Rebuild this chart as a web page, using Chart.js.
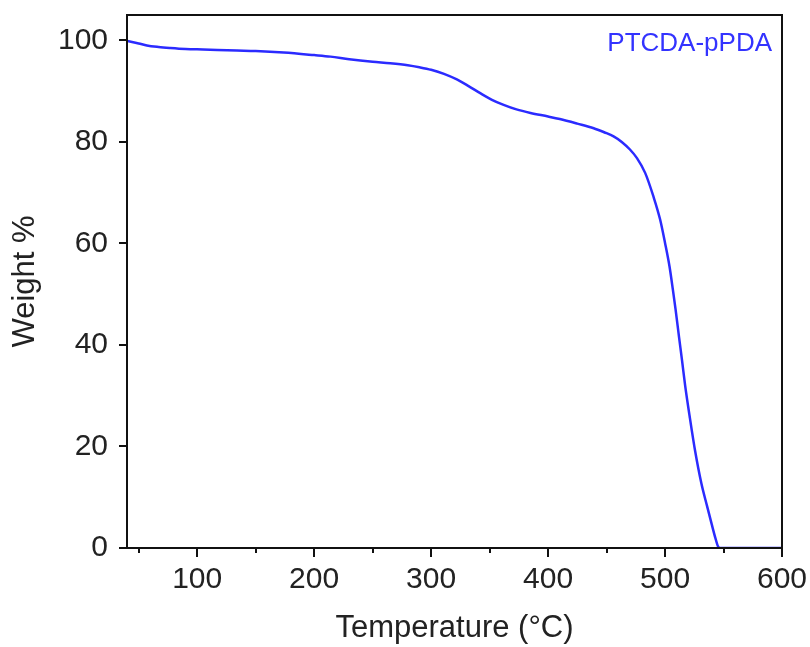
<!DOCTYPE html>
<html>
<head>
<meta charset="utf-8">
<script src="https://cdn.jsdelivr.net/npm/chart.js@4.4.0/dist/chart.umd.min.js"></script>
<style>
html,body{margin:0;padding:0;background:#fff;}
#wrap{width:810px;height:647px;position:relative;}
</style>
</head>
<body>
<div id="wrap"><canvas id="c" width="810" height="647"></canvas></div>
<script>
const seriesLabel = 'PTCDA-pPDA';
const temperatures = [40, 50, 57, 67, 77, 90, 105, 134, 150, 174, 200, 214, 230, 250, 265, 280, 290, 300, 311, 322, 332, 342, 352, 362, 373, 385, 400, 410, 425, 439, 448, 456, 463, 470, 476, 483, 490, 495.8, 500, 503.8, 506.7, 509, 512, 514.5, 517.2, 521, 525.8, 531, 536, 540, 543, 545.5, 547, 600];
const weights      = [99.9, 99.4, 99.0, 98.7, 98.5, 98.3, 98.2, 98.0, 97.9, 97.6, 97.1, 96.8, 96.3, 95.8, 95.5, 95.1, 94.7, 94.2, 93.4, 92.3, 91.0, 89.6, 88.3, 87.3, 86.4, 85.7, 85.0, 84.5, 83.6, 82.7, 81.9, 81.1, 80.0, 78.5, 76.8, 73.9, 69.3, 64.7, 60.1, 55.5, 50.9, 47.0, 41.5, 37.0, 32.0, 26.0, 19.0, 12.8, 8.2, 4.6, 2.0, 0.2, 0, 0];
const xTickValues = [100, 200, 300, 400, 500, 600];
const yTickValues = [0, 20, 40, 60, 80, 100];
const xTitle = 'Temperature (°C)';
const yTitle = 'Weight %';

const FONT = "'Liberation Sans', Arial, sans-serif";
const LINE = '#2b2bff';

const framePlugin = {
  id: 'frame',
  afterDraw(chart) {
    const {ctx, chartArea: a, scales: {x, y}} = chart;
    ctx.save();
    ctx.strokeStyle = '#111';
    ctx.lineWidth = 2;
    ctx.strokeRect(a.left, a.top, a.right - a.left, a.bottom - a.top);
    x.ticks.forEach(t => {
      const px = Math.round(x.getPixelForValue(t.value));
      const major = xTickValues.includes(t.value);
      ctx.beginPath();
      ctx.moveTo(px, a.bottom);
      ctx.lineTo(px, a.bottom + (major ? 9 : 5));
      ctx.stroke();
    });
    y.ticks.forEach(t => {
      const py = Math.round(y.getPixelForValue(t.value));
      ctx.beginPath();
      ctx.moveTo(a.left, py);
      ctx.lineTo(a.left - 8, py);
      ctx.stroke();
    });
    ctx.fillStyle = '#3333ff';
    ctx.font = "26px " + FONT;
    ctx.textAlign = 'right';
    ctx.textBaseline = 'middle';
    ctx.fillText(seriesLabel, a.right - 10, 44);
    ctx.restore();
  }
};

function zeroPad(s) { s.paddingTop = 0; s.paddingBottom = 0; s.paddingLeft = 0; s.paddingRight = 0; }

new Chart(document.getElementById('c'), {
  type: 'line',
  data: {
    datasets: [{
      label: seriesLabel,
      data: temperatures.map((t, i) => ({x: t, y: weights[i]})),
      borderColor: LINE,
      borderWidth: 2.5,
      pointRadius: 0,
      fill: false,
      cubicInterpolationMode: 'monotone'
    }]
  },
  options: {
    responsive: false,
    animation: false,
    layout: {padding: {top: 15, right: 28, left: 0, bottom: 0}},
    plugins: {legend: {display: false}, tooltip: {enabled: false}},
    scales: {
      x: {
        type: 'linear',
        min: 40, max: 600,
        afterFit: s => { s.height = 99; zeroPad(s); },
        border: {display: false},
        grid: {display: false, drawTicks: false},
        ticks: {
          stepSize: 50,
          includeBounds: false,
          autoSkip: false,
          maxRotation: 0,
          padding: 14,
          color: '#222',
          font: {family: FONT, size: 30},
          callback: v => xTickValues.includes(v) ? String(v) : ''
        },
        title: {display: true, text: xTitle, color: '#222', font: {family: FONT, size: 31}, padding: {top: 0, bottom: 0}}
      },
      y: {
        min: 0, max: 105,
        afterFit: s => { s.width = 127; zeroPad(s); },
        border: {display: false},
        grid: {display: false, drawTicks: false},
        ticks: {
          stepSize: 20,
          includeBounds: false,
          padding: 19,
          color: '#222',
          font: {family: FONT, size: 30},
          callback: v => yTickValues.includes(v) ? String(v) : ''
        },
        title: {display: true, text: yTitle, color: '#222', font: {family: FONT, size: 31}, padding: {top: 7, bottom: 0}}
      }
    }
  },
  plugins: [framePlugin]
});
</script>
</body>
</html>
